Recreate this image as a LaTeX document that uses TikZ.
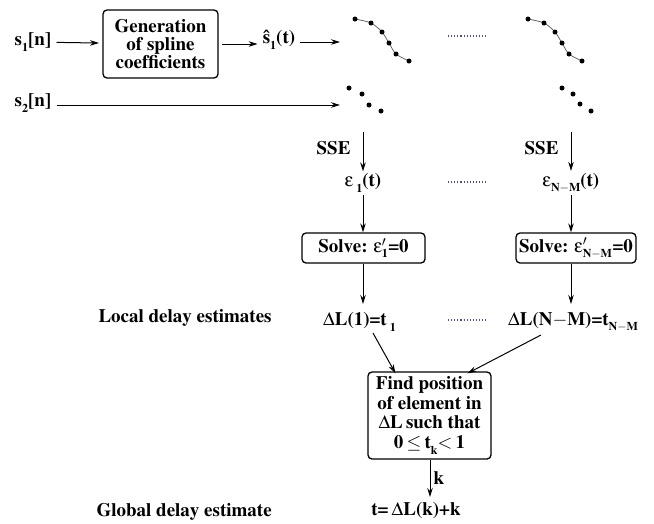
\documentclass[tikz,border=0pt]{standalone}
\usepackage[T1]{fontenc}
\usepackage{mathptmx}
\usetikzlibrary{arrows.meta}
\newcommand\lowr[1]{\raisebox{-0.3em}{\fontsize{12}{12}\selectfont #1}}
\newcommand\primesub[1]{\ensuremath{{}'_{\hbox{\fontsize{12}{12}\selectfont\bfseries #1}}}}
\newcommand\epsi{{\usefont{U}{psy}{m}{n}\char101}}
\newcommand\Dl{$\Delta$}
\newcommand\NM{N$-$M}
\begin{document}
\begin{tikzpicture}[x=1pt,y=-1pt,
  font=\fontsize{19}{18}\selectfont\bfseries,
  box/.style={draw, rounded corners=4pt, line width=1.3pt, align=center, inner sep=2pt},
  lbl/.style={inner xsep=5pt, inner ysep=2pt},
  arr/.style={-{Stealth[length=9pt,width=5.5pt]}, line width=1pt},
  dots/.style={dotted, line width=1.1pt, draw=black!60!blue!70},
  pt/.style={fill=black, circle, inner sep=0pt, minimum size=5pt},
  curve/.style={draw=black!60, line width=0.8pt}
]
\useasboundingbox (0,0) rectangle (654,523);

% top row
\node[lbl] (s1) at (33,42) {s\lowr{1}[n]};
\node[box, minimum width=115pt, minimum height=68pt, outer sep=4pt] (gen) at (160.5,44) {Generation\\of spline\\coefficients};
\node[lbl] (sh) at (279,40) {\^s\lowr{1}(t)};
\coordinate (c1) at (340,42);
\node[lbl] (s2) at (33,103) {s\lowr{2}[n]};
\coordinate (c2) at (340,105);
\draw[arr] (s1) -- (gen);
\draw[arr] (gen) -- (sh.west |- gen);
\draw[arr] (sh.east |- c1) -- (c1);
\draw[arr] (s2.east |- c2) -- (c2);

% splines
\foreach \dx in {0,173} {
  \begin{scope}[xshift=\dx]
    \draw[curve] plot[smooth] coordinates {(355,19) (371,23) (382,32) (389,43) (396,54) (409,61)};
    \foreach \p in {(355,19),(371,23),(382,32),(389,43),(396,54),(409,61)}
      \node[pt] at \p {};
  \end{scope}
}
\foreach \p in {(349,88),(362,94),(369,105),(381,111),(562,88),(573,94),(580,104),(591,111)}
  \node[pt] at \p {};

\draw[dots] (448,36) -- (487,36);
\draw[dots] (448,182) -- (487,182);
\draw[dots] (448,320) -- (487,320);

% SSE stage
\coordinate (t1) at (363,132);
\coordinate (t2) at (571,132);
\node[lbl] (e1) at (363,183) {\epsi\,\lowr{1}(t)};
\node[lbl] (e2) at (571,183) {\epsi\lowr{\NM}(t)};
\node[anchor=east] (sse1) at (354,148) {SSE};
\node[anchor=east] (sse2) at (562,148) {SSE};
\draw[arr] (t1) -- (e1);
\draw[arr] (t2) -- (e2);

% solve boxes
\node[box, minimum width=123pt, minimum height=30pt] (sol1) at (363.5,248) {Solve: \epsi\primesub{1}=0};
\node[box, minimum width=120pt, minimum height=30pt, inner sep=1pt] (sol2) at (576,248) {Solve: \epsi\primesub{\NM}=0};
\draw[arr] (e1) -- (e1 |- sol1.north);
\draw[arr] (e2) -- (e2 |- sol2.north);

% local delay estimates
\node[anchor=west] (loc) at (95,318) {Local delay estimates};
\node[anchor=west, inner sep=1pt] (dl1) at (322,322) {\Dl L(1)=t\,\lowr{1}};
\node[anchor=west, inner sep=1pt] (dl2) at (507,322) {\Dl L(\NM)=t\lowr{\NM}};
\coordinate (b1) at (363,304);
\coordinate (b2) at (571,304);
\draw[arr] (sol1.south -| b1) -- (b1);
\draw[arr] (sol2.south -| b2) -- (b2);

% find box
\node[box, minimum width=123pt, minimum height=87pt, font=\fontsize{19}{19.5}\selectfont\bfseries] (find) at (429.5,415.5)
  {Find position\\of element in\\\Dl L\,such that\\0\,$\leq$\,t\lowr{k}$<$\,1};
\coordinate (d1) at (373,333);
\coordinate (d2) at (541,335);
\draw[arr] (d1) -- ([xshift=-34pt,yshift=-2pt]find.north);
\draw[arr] (d2) -- ([xshift=38pt,yshift=-2pt]find.north);

% global
\node[anchor=west] (glob) at (93,512) {Global delay estimate};
\node (res) at (416,511) {t=\,\Dl L(k)+k};
\coordinate (kend) at (430,497);
\draw[arr] (find.south -| kend) -- node[right, inner sep=3pt] {k} (kend);
\end{tikzpicture}
\end{document}
